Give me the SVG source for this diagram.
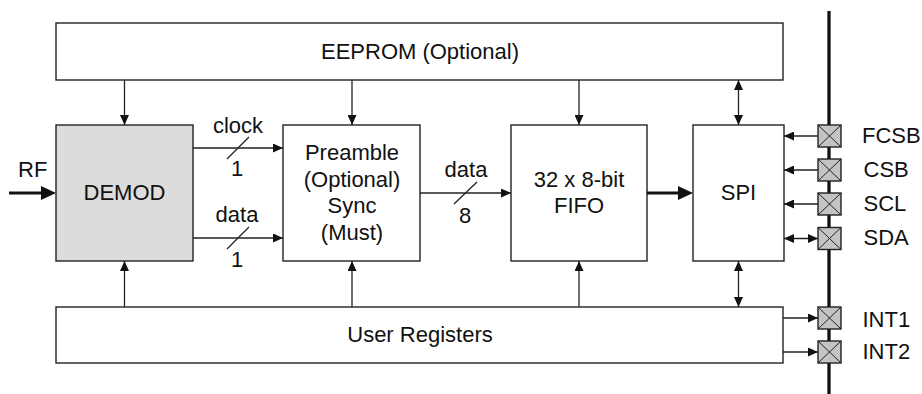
<svg xmlns="http://www.w3.org/2000/svg" width="922" height="394" viewBox="0 0 922 394">
<defs>
<style>
.box{fill:#fff;stroke:#222;stroke-width:1.4}
.gray{fill:#dcdcdc}
.t{font-family:"Liberation Sans",Arial,sans-serif;font-size:22px;fill:#111;text-anchor:middle}
.tl{font-family:"Liberation Sans",Arial,sans-serif;font-size:22px;fill:#111}
.w{fill:none;stroke:#222;stroke-width:1.3}
.a{marker-end:url(#ah)}
.d{marker-start:url(#ah);marker-end:url(#ah)}
.thick{fill:none;stroke:#111;stroke-width:3.2;marker-end:url(#ahb)}
.pad{fill:#c4c4c4;stroke:#222;stroke-width:1.4}
.x{stroke:#222;stroke-width:1}
</style>
<marker id="ah" markerUnits="userSpaceOnUse" markerWidth="10" markerHeight="9" refX="10" refY="4.5" orient="auto-start-reverse" viewBox="0 0 10 9">
<path d="M0,0 L10,4.5 L0,9 z" fill="#111"/>
</marker>
<marker id="ahb" markerUnits="userSpaceOnUse" markerWidth="15" markerHeight="14" refX="10" refY="7" orient="auto" viewBox="0 0 15 14">
<path d="M0,0 L15,7 L0,14 z" fill="#111"/>
</marker>
</defs>

<g id="bus">
<line x1="829" y1="11" x2="829" y2="394" stroke="#111" stroke-width="3.3"/>
</g>

<g id="eeprom">
<rect class="box" x="56" y="23" width="727" height="57"/>
<text class="t" x="420" y="59">EEPROM (Optional)</text>
</g>

<g id="demod">
<rect class="box gray" x="56" y="125" width="137" height="136"/>
<text class="t" x="124.5" y="200">DEMOD</text>
</g>

<g id="preamble">
<rect class="box" x="283" y="125" width="137" height="136"/>
<text class="t" x="352" y="160">Preamble</text>
<text class="t" x="352" y="186.5">(Optional)</text>
<text class="t" x="352" y="213">Sync</text>
<text class="t" x="352" y="239.5">(Must)</text>
</g>

<g id="fifo">
<rect class="box" x="511" y="125" width="136" height="136"/>
<text class="t" x="579" y="187">32 x 8-bit</text>
<text class="t" x="579" y="213">FIFO</text>
</g>

<g id="spi">
<rect class="box" x="693" y="125" width="91" height="136"/>
<text class="t" x="738.5" y="200">SPI</text>
</g>

<g id="registers">
<rect class="box" x="56" y="307" width="727" height="56"/>
<text class="t" x="420" y="342">User Registers</text>
</g>

<g id="connectors">
<line class="w a" x1="124.5" y1="80" x2="124.5" y2="125"/>
<line class="w a" x1="352" y1="80" x2="352" y2="125"/>
<line class="w a" x1="579" y1="80" x2="579" y2="125"/>
<line class="w d" x1="738.5" y1="80" x2="738.5" y2="125"/>
<line class="w a" x1="124.5" y1="307" x2="124.5" y2="261"/>
<line class="w a" x1="352" y1="307" x2="352" y2="261"/>
<line class="w a" x1="579" y1="307" x2="579" y2="261"/>
<line class="w d" x1="738.5" y1="307" x2="738.5" y2="261"/>
<line class="w a" x1="193" y1="148" x2="283" y2="148"/>
<line class="w a" x1="193" y1="238" x2="283" y2="238"/>
<line class="w a" x1="420" y1="193" x2="511" y2="193"/>
<line class="w" x1="227" y1="159" x2="249" y2="137"/>
<line class="w" x1="227" y1="249" x2="249" y2="227"/>
<line class="w" x1="454" y1="204" x2="477" y2="182"/>
<line class="thick" x1="9" y1="193" x2="51" y2="193"/>
<line class="thick" x1="647" y1="193" x2="688" y2="193"/>
<line class="w a" x1="818" y1="136" x2="784" y2="136"/>
<line class="w a" x1="818" y1="170" x2="784" y2="170"/>
<line class="w a" x1="818" y1="204" x2="784" y2="204"/>
<line class="w d" x1="818" y1="238.5" x2="784" y2="238.5"/>
<line class="w a" x1="783" y1="318" x2="818" y2="318"/>
<line class="w a" x1="783" y1="352" x2="818" y2="352"/>
</g>

<g id="labels">
<text class="tl" x="18" y="177">RF</text>
<text class="t" x="238" y="133">clock</text>
<text class="t" x="237" y="176">1</text>
<text class="t" x="237" y="222">data</text>
<text class="t" x="237" y="267">1</text>
<text class="t" x="466" y="177">data</text>
<text class="t" x="465" y="223">8</text>
</g>

<g id="pad-fcsb">
<rect class="pad" x="818" y="125" width="23" height="22"/>
<path class="x" d="M818,125 L841,147 M841,125 L818,147"/>
<text class="tl" x="862" y="143">FCSB</text>
</g>
<g id="pad-csb">
<rect class="pad" x="818" y="159" width="23" height="22"/>
<path class="x" d="M818,159 L841,181 M841,159 L818,181"/>
<text class="tl" x="863.5" y="177">CSB</text>
</g>
<g id="pad-scl">
<rect class="pad" x="818" y="193" width="23" height="22"/>
<path class="x" d="M818,193 L841,215 M841,193 L818,215"/>
<text class="tl" x="863.5" y="211">SCL</text>
</g>
<g id="pad-sda">
<rect class="pad" x="818" y="227.5" width="23" height="22"/>
<path class="x" d="M818,227.5 L841,249.5 M841,227.5 L818,249.5"/>
<text class="tl" x="863.5" y="244.5">SDA</text>
</g>
<g id="pad-int1">
<rect class="pad" x="818" y="307" width="23" height="22"/>
<path class="x" d="M818,307 L841,329 M841,307 L818,329"/>
<text class="tl" x="862.5" y="327">INT1</text>
</g>
<g id="pad-int2">
<rect class="pad" x="818" y="341" width="23" height="22"/>
<path class="x" d="M818,341 L841,363 M841,341 L818,363"/>
<text class="tl" x="862.5" y="359">INT2</text>
</g>
</svg>
